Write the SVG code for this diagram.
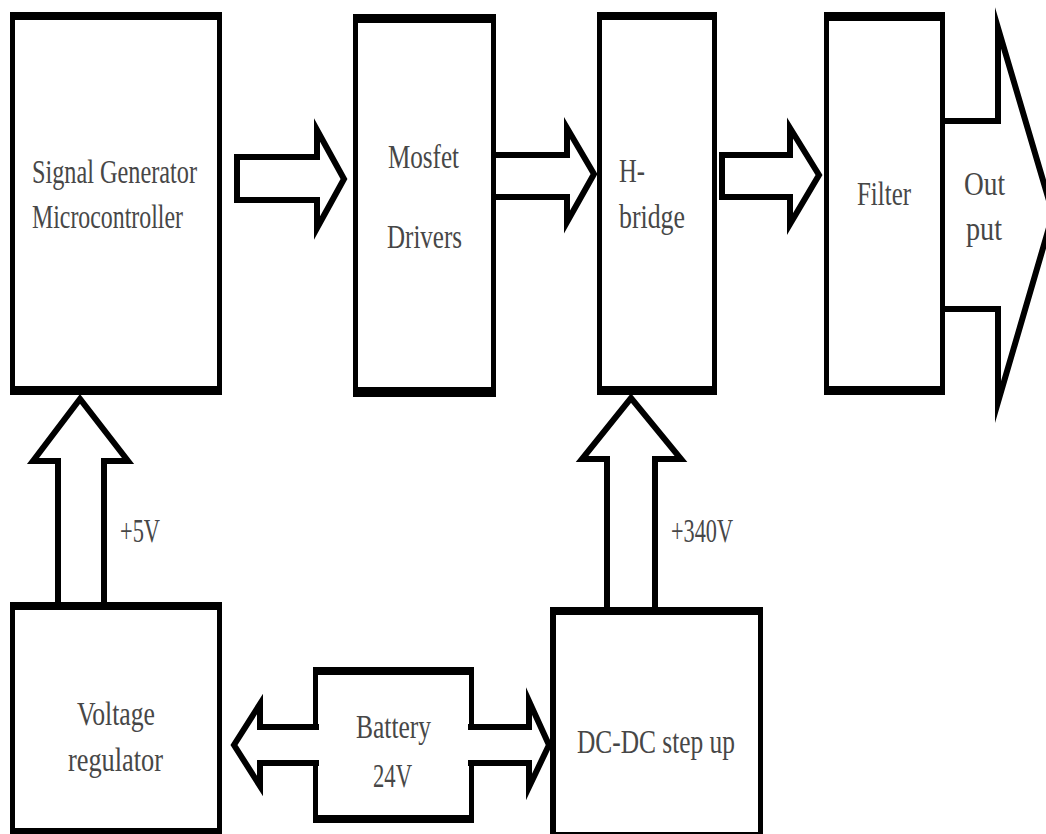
<svg xmlns="http://www.w3.org/2000/svg" width="1046" height="834" viewBox="0 0 1046 834">
<style>
.box{fill:#000;fill-rule:evenodd}
.arr{fill:#fff;stroke:#000;stroke-width:6;stroke-linejoin:miter;stroke-miterlimit:12}
.t{font-family:"Liberation Serif","Times New Roman",serif;font-size:33px;fill:#474747}
</style>
<rect x="0" y="0" width="1046" height="834" fill="#fff"/>
<g id="signal-generator">
<path class="box" d="M10,12 H222 V395 H10 Z M15,20 V386 H217 V20 Z"/>
<text class="t" x="32" y="183" textLength="165" lengthAdjust="spacingAndGlyphs">Signal Generator</text>
<text class="t" x="32" y="228" textLength="151" lengthAdjust="spacingAndGlyphs">Microcontroller</text>
</g>
<g id="mosfet-drivers">
<path class="box" d="M353,14 H496 V397 H353 Z M358,23 V387 H491 V23 Z"/>
<text class="t" x="388" y="168" textLength="71" lengthAdjust="spacingAndGlyphs">Mosfet</text>
<text class="t" x="387" y="248" textLength="75" lengthAdjust="spacingAndGlyphs">Drivers</text>
</g>
<g id="h-bridge">
<path class="box" d="M597,12 H717 V395 H597 Z M602,20 V386 H712 V20 Z"/>
<text class="t" x="619" y="182" textLength="26" lengthAdjust="spacingAndGlyphs">H-</text>
<text class="t" x="619" y="228" textLength="66" lengthAdjust="spacingAndGlyphs">bridge</text>
</g>
<g id="filter">
<path class="box" d="M824,12 H945 V395 H824 Z M829,21 V386 H940 V21 Z"/>
<text class="t" x="857" y="205" textLength="54" lengthAdjust="spacingAndGlyphs">Filter</text>
</g>
<g id="voltage-regulator">
<path class="box" d="M10,602 H222 V840 H10 Z M15,610 V828 H217 V610 Z"/>
<text class="t" x="77" y="725" textLength="78" lengthAdjust="spacingAndGlyphs">Voltage</text>
<text class="t" x="68" y="771" textLength="95" lengthAdjust="spacingAndGlyphs">regulator</text>
</g>
<g id="dc-dc-step-up">
<path class="box" d="M550,607 H763 V840 H550 Z M556,615 V832 H758 V615 Z"/>
<text class="t" x="577" y="753" textLength="158" lengthAdjust="spacingAndGlyphs">DC-DC step up</text>
</g>
<g id="battery">
<path class="box" d="M313,667 H474 V823 H313 Z M318,675 V815 H469 V675 Z"/>
</g>
<g id="connectors">
<path class="arr" d="M237,157 H317 V130 L344,179 L317,228 V200 H237 Z"/>
<path class="arr" d="M496,155 H567 V128 L594,174 L567,222 V197 H496"/>
<path class="arr" d="M722,155 H790 V128 L819,175 L790,224 V197 H722 Z"/>
<path class="arr" d="M945,121 H998 V28 L1053,214 L998,402 V309 H945"/>
<path class="arr" d="M58,602 V461 H33 L80,399 L128,461 H104 V602"/>
<path class="arr" d="M607,607 V459 H582 L631,398 L681,459 H655 V607"/>
<path class="arr" d="M319,727 H260 V704 L234,745 L260,786 V763 H319"/>
<path class="arr" d="M468,727 H529 V701 L549,745 L529,787 V763 H468"/>
</g>
<g id="labels">
<text class="t" x="120" y="542" textLength="40" lengthAdjust="spacingAndGlyphs">+5V</text>
<text class="t" x="671" y="542" textLength="62" lengthAdjust="spacingAndGlyphs">+340V</text>
<text class="t" x="964" y="195" textLength="41" lengthAdjust="spacingAndGlyphs">Out</text>
<text class="t" x="966" y="240" textLength="36" lengthAdjust="spacingAndGlyphs">put</text>
<text class="t" x="356" y="738" textLength="75" lengthAdjust="spacingAndGlyphs">Battery</text>
<text class="t" x="373" y="787" textLength="39" lengthAdjust="spacingAndGlyphs">24V</text>
</g>
</svg>
